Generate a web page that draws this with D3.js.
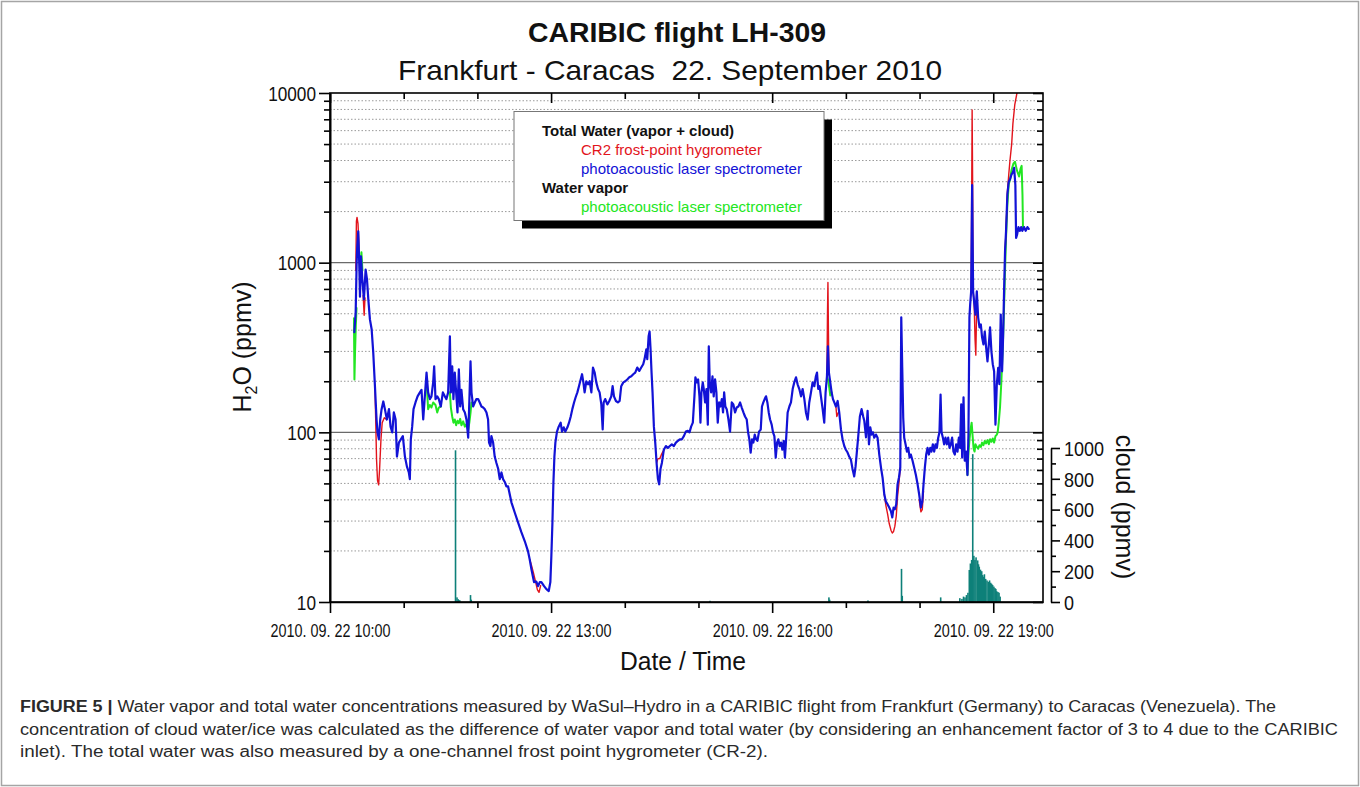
<!DOCTYPE html>
<html><head><meta charset="utf-8">
<script src="https://cdn.jsdelivr.net/npm/d3@7"></script>
<style>
body{margin:0;background:#fff;}
svg{display:block;font-family:"Liberation Sans",Arial,Helvetica,sans-serif;}
</style></head><body>
<svg id="chart" width="1360" height="787"></svg>
<script>
// ---------------- DATA ----------------
const titleText = "CARIBIC flight LH-309";
const subtitleText = "Frankfurt - Caracas  22. September 2010";
const xAxisTitle = "Date / Time";
const cloudAxisTitle = "cloud (ppmv)";
const labelHours = [10, 13, 16, 19];
const yMajorTicks = [10, 100, 1000, 10000];
const cloudTicks = [0, 200, 400, 600, 800, 1000];
const legendHeaders = ["Total Water (vapor + cloud)", "Water vapor"];
const legendEntries = ["CR2 frost-point hygrometer", "photoacoustic laser spectrometer", "photoacoustic laser spectrometer"];
const captionLines = [
  ["FIGURE 5 |", " Water vapor and total water concentrations measured by WaSul\u2013Hydro in a CARIBIC flight from Frankfurt (Germany) to Caracas (Venezuela). The"],
  ["", "concentration of cloud water/ice was calculated as the difference of water vapor and total water (by considering an enhancement factor of 3 to 4 due to the CARIBIC"],
  ["", "inlet). The total water was also measured by a one-channel frost point hygrometer (CR-2)."]
];

// time in minutes after 2010-09-22 10:00, H2O in ppmv
// Total water, photoacoustic laser spectrometer (blue)
const totalWaterPAS = [
[19.8,389],[20.9,510],[21.7,1000],[22.2,1250],[23.0,1530],[23.8,1000],[24.4,630],[25.2,1090],[26.3,800],[27.6,608],[29.0,910],[30.1,800],[31.2,608],[32.5,463],[33.9,405],[35.2,296],[36.6,187],[37.9,119],[38.7,100],[39.8,91],[40.9,119],[42.0,137],[43.4,152],[44.7,137],[46.3,119],[48.0,137],[49.3,108],[50.7,100],[52.0,131],[53.4,119],[54.5,72],[56.1,87],[57.7,91],[59.3,95],[61.0,72],[62.6,63],[64.2,58],[65.0,53],[65.8,91],[66.9,108],[68.0,137],[69.6,150],[71.3,163],[73.2,172],[74.5,178],[75.9,119],[77.2,163],[78.6,225],[79.9,172],[81.3,157],[82.6,163],[84.0,197],[84.8,245],[85.9,157],[87.3,163],[88.6,157],[90.2,142],[91.9,172],[93.5,163],[94.8,157],[96.2,172],[97.6,368],[98.4,172],[99.5,245],[100.5,157],[101.6,225],[102.7,172],[103.8,131],[104.9,235],[106.0,142],[107.0,178],[108.4,137],[109.8,131],[111.1,119],[112.5,93],[113.5,157],[114.4,262],[115.2,172],[116.5,142],[117.9,150],[119.2,157],[120.6,157],[121.9,150],[123.3,142],[124.7,140],[126.0,137],[127.4,131],[128.7,119],[129.5,87],[130.6,83],[131.4,95],[132.8,87],[134.1,72],[135.5,66],[136.9,61],[138.2,53],[139.6,58],[140.9,53],[142.3,51],[143.6,48],[145.0,48],
[147.7,38.7],[150.4,33.7],[153.1,29.5],[155.8,25.8],[158.6,22.8],[161.3,19.8],[162.6,17.8],[164.0,15.6],[166.1,13.1],[168.0,13.2],[169.4,12.4],[170.8,13.1],[172.1,13.1],[174.3,12.4],[176.2,11.9],[178.1,11.6],[179.4,13.1],[180.2,18.5],[181.1,29.5],[181.9,50.7],[182.7,72],[183.5,87],[184.8,101],[186.2,108],[187.8,114],[188.9,101],[190.3,107],[191.6,101],[193.3,107],[194.6,114],[196.0,124],[197.3,137],[198.7,150],[200.0,161],[201.4,172],[202.7,187],[204.1,205],[205.2,220],[206.3,197],[207.3,172],[208.7,200],[210.1,192],[211.4,200],[212.8,172],[214.1,241],[215.5,225],[216.8,197],[218.2,180],[219.5,172],[220.9,146],[222.0,104],[222.8,150],[224.1,157],[225.8,146],[227.4,153],[229.0,163],[230.1,187],[231.2,163],[232.8,153],[234.4,150],[235.8,153],[237.1,187],[238.8,197],[240.4,200],[242.0,205],[243.7,211],[245.3,214],[246.9,220],[248.5,225],[250.2,241],[251.8,230],[253.4,241],[255.0,252],[256.1,270],[257.5,308],[258.3,270],[259.4,368],[260.2,393],[261.0,308],[261.8,225],[262.6,172],[263.7,108],[264.8,87],[265.9,66],[267.0,53],[268.0,49.4],[269.1,61],[270.2,66],[271.8,79],[273.5,83],[275.1,81],[276.7,83],[278.3,85],[280.0,83],[281.6,87],[283.2,89],[284.8,91],[286.5,91],[288.1,95],[289.7,101],
[291.3,102],[292.7,100],[294.0,108],[295.4,114],[296.7,163],[297.5,211],[298.6,197],[299.7,205],[300.8,163],[301.6,114],[302.4,172],[303.5,197],[304.3,180],[305.4,150],[306.5,180],[307.6,111],[308.4,321],[309.2,197],[310.3,172],[311.4,214],[312.4,163],[313.5,205],[314.6,172],[315.7,114],[316.8,150],[317.9,142],[319.0,157],[320.0,131],[320.9,172],[321.9,142],[323.0,137],[324.4,119],[325.7,101],[327.1,150],[328.4,146],[329.8,131],[331.1,140],[332.5,142],[333.9,150],[335.2,140],[336.6,131],[337.9,124],[339.3,119],[340.4,100],[341.4,91],[342.5,76],[343.6,91],[344.7,87],[345.8,97],[346.9,91],[348.0,89],[349.3,101],[350.7,104],[351.7,142],[352.8,150],[353.9,157],[355.0,163],[356.1,150],[357.2,131],[358.3,119],[359.6,111],[360.7,100],[361.8,95],[362.9,71],[364.0,87],[365.0,91],[366.1,83],[367.2,87],[368.3,79],[369.4,89],[370.4,71],[371.5,95],[372.6,131],[374.0,142],[375.3,150],[376.7,180],[378.0,197],[379.4,211],[380.7,192],[382.1,180],[383.5,163],[384.8,180],[386.2,157],[387.5,131],[388.9,119],[390.2,150],[391.6,172],[392.9,197],[394.3,187],[395.6,214],[396.5,225],[397.5,180],[398.6,187],[399.7,163],[401.1,137],[402.4,114],[403.5,172],[404.6,214],[405.4,321],[406.2,225],[407.3,197],[408.4,172],[409.5,157],[410.6,150],[411.9,142],[413.3,153],[414.6,131],[416.0,104],[417.3,91],[418.7,83],[420.0,79],[421.4,76],[422.7,72],[424.1,69],[425.4,61],[426.8,55],[427.9,63],[428.9,76],[430.1,95],[431.4,124],[432.8,137],[434.1,124],
[435.0,117],[436.4,93.5],[437.7,134],[438.8,85],[439.9,107],[441.0,97],[442.0,100],[443.1,93],[444.5,97],[445.8,93],[447.2,74],[448.6,62],[449.9,54],[451.3,43],[452.6,39],[454.0,37.6],[455.3,36],[456.7,34.3],[457.8,31.5],[458.8,36],[459.9,35.2],[461.0,37.6],[462.1,49.4],[463.2,54],[464.3,62],[465.1,476],[465.9,240],[466.7,122],[467.5,93],[468.6,85],[469.7,77],[470.8,81],[471.9,71],[472.9,74],[474.3,68],[475.6,62],[477.0,56],[478.4,49.4],[479.7,43],[481.1,36],[482.2,39],[483.2,49],[484.3,62],[485.4,74],[486.5,81],[487.6,74],[488.7,81],[489.7,77],[490.8,85],[491.9,77],[493.0,85],[494.1,81],[495.2,93],[496.2,100],[497.1,167],[497.9,100],[499.0,93],[500.0,85],[501.1,93],[502.2,85],[503.3,93],[504.4,81],[505.5,85],[506.5,93],[507.6,77],[508.7,74],[509.8,85],[510.9,77],[512.0,93],[513.0,81],[513.9,146],[514.7,71],[515.8,161],[516.8,68],[517.9,77],[519.0,56],[519.8,97],[520.6,476],[521.2,567],[522.0,677],[522.8,2870],[523.6,677],[524.4,590],[525.5,494],[526.6,677],[527.7,476],[528.8,416],[529.9,432],[530.9,363],[532.0,330],[533.1,393],[534.2,316],[535.3,262],[536.4,330],[537.4,416],[538.5,300],[539.6,252],[540.7,229],[541.8,111],[542.9,192],[544.0,240],[545.0,192],[546.1,494],[547.2,229],[548.0,363],[548.8,677],[549.6,1170],[550.4,1530],[551.5,2530],[552.6,3000],[553.7,3100],[554.8,3300],[555.9,3400],[557.0,3620],[558.0,2870],[558.6,1400],[559.4,1460],[560.5,1620],[561.6,1540],[562.7,1620],[563.7,1540],[565.1,1620],[566.4,1540],[567.8,1620],[568.9,1580]
];

// Total water, CR2 frost-point hygrometer (red) - visible stretches, null = gap
const totalWaterCR2 = [
[21.0,900],[21.5,1750],[22.0,1850],[22.8,1700],[23.5,1300],[24.2,900],null,
[27.0,640],[27.8,490],[28.5,620],null,
[36.6,187],[37.3,110],[37.9,69],[38.7,52],[39.6,49],[40.4,61],[41.5,91],[42.5,114],[44.2,122],[46.1,119],[47.5,125],null,
[162.6,17.8],[164.0,16.5],[165.5,15.0],[167.2,13.3],[168.9,11.8],[170.2,11.4],[171.5,12.5],null,
[265.9,66],[267.0,70],[268.5,70],[270.2,75],[272.0,79],null,
[404.6,214],[405.0,480],[405.4,765],[405.8,400],[406.2,225],null,
[411.9,142],[412.6,124],[413.3,128],[414.0,131],null,
[451.3,43],[452.6,37],[454.0,33],[455.3,29],[456.7,26.5],[457.8,25.5],[458.8,26],[459.9,28],[461.0,32],[462.1,42],[463.2,50],[464.3,62],null,
[479.7,40],[481.1,34],[482.2,35],[483.2,45],null,
[522.0,677],[522.5,3000],[522.8,7950],[523.2,3000],[523.6,677],[524.4,590],[525.2,350],[525.8,285],[526.4,500],[526.6,677],null,
[549.6,1170],[550.4,1530],[551.5,2600],[552.6,3300],[553.6,4000],[555.0,5000],[556.0,6600],[557.5,8500],[559.3,10000],[560.0,11500]
];

// Water vapor, photoacoustic laser spectrometer (green) - visible stretches
const waterVaporPAS = [
[19.5,470],[19.9,205],[20.4,300],[21.0,420],[21.6,540],null,
[24.8,950],[25.6,1150],[26.4,900],null,
[78.6,200],[79.9,137],[81.3,145],[82.6,140],[84.0,150],[85.9,145],[87.3,131],[88.6,140],[90.2,142],null,
[97.6,172],[98.4,140],[99.5,124],[100.5,114],[101.6,119],[102.7,110],[103.8,117],[104.9,113],[106.0,120],[107.0,110],[108.4,116],[109.8,108],[111.1,112],[112.5,103],[113.5,115],[114.4,130],[115.2,150],null,
[404.6,214],[405.4,205],[406.2,190],[407.3,165],[408.4,172],null,
[519.0,56],[519.8,75],[520.6,90],[521.6,105],[522.4,114],[523.2,95],[524.0,80],[524.8,77],[525.5,85],[526.6,82],[527.7,80],[528.8,84],[529.9,82],[530.9,87],[532.0,84],[533.1,89],[534.2,86],[535.3,90],[536.4,85],[537.4,91],[538.5,88],[539.6,92],[540.7,87],[541.8,95],[542.9,97],[543.6,100],[544.5,115],[545.5,140],[546.6,200],[547.6,300],[548.6,480],[549.6,900],[550.4,1400],[551.5,2200],[552.6,2900],[553.7,3100],[554.8,3500],[556.5,3850],[557.7,3930],[559.3,3500],[561.0,3220],[562.3,3600],[563.1,3720],[563.8,2500],[564.2,1600]
];

// Cloud water/ice (ppmv), teal columns on the right-hand axis
const cloudWater = [
[102.2,985],[103.4,30],[104.4,18],[105.6,12],[114.4,45],[115.0,15],
[309.4,8],[406.2,30],[406.8,15],[438.0,10],[465.3,215],[465.9,40],[497.2,30],[512.8,25],
[514.5,20],[515.8,35],[517.0,30],[518.2,45],[519.4,60],[520.5,208],[521.4,250],[522.4,273],[523.3,960],[524.2,300],[525.1,273],[526.0,290],[527.3,270],[528.0,245],[528.6,229],[529.6,210],[530.6,200],[531.3,175],[531.9,164],[532.8,180],[533.8,150],[534.9,140],[536.0,131],[537.0,140],[537.9,125],[538.7,118],[539.5,110],[540.5,100],[541.4,90],[542.1,85],[542.8,70],[543.8,65],[544.7,60],[545.6,35]
];

// ---------------- DRAWING ----------------
const C = {blue:"#1212d6", red:"#e2141c", green:"#22e622", teal:"#0e8079", grid:"#9a9a9a"};
const svg = d3.select("#chart");
const L = 330, R = 1043, T = 93, B = 602;
const t0 = new Date(2010, 8, 22, 10, 0);
const toDate = m => new Date(t0.getTime() + m * 60000);
const x = d3.scaleTime().domain([t0, toDate(580.5)]).range([L, R]);
const y = d3.scaleLog().domain([10, 10000]).range([B, T]);
const yc = d3.scaleLinear().domain([0, 1000]).range([B, 448]);

function narrow(sel, f) {
  sel.each(function () {
    const len = this.getComputedTextLength();
    d3.select(this).attr("textLength", len * f).attr("lengthAdjust", "spacingAndGlyphs");
  });
}

// figure border
svg.append("rect").attr("x", 1.5).attr("y", 1.5).attr("width", 1357).attr("height", 784)
  .attr("fill", "none").attr("stroke", "#a5a5a5").attr("stroke-width", 1.5);

// log ticks
const logTicks = [];
[10, 100, 1000].forEach(d => { for (let k = 1; k < 10; k++) logTicks.push(k * d); });
logTicks.push(10000);
const isMajor = v => yMajorTicks.includes(v);

// grid
const grid = svg.append("g");
grid.selectAll("line.minor").data(logTicks.filter(v => !isMajor(v))).join("line")
  .attr("x1", L).attr("x2", R).attr("y1", d => y(d)).attr("y2", d => y(d))
  .attr("stroke", C.grid).attr("stroke-width", 1).attr("stroke-dasharray", "1.5,2");
grid.selectAll("line.major").data([100, 1000]).join("line")
  .attr("x1", L).attr("x2", R).attr("y1", d => y(d)).attr("y2", d => y(d))
  .attr("stroke", "#6a6a6a").attr("stroke-width", 1.3);

// clip
svg.append("clipPath").attr("id", "plotclip").append("rect")
  .attr("x", L).attr("y", T).attr("width", R - L).attr("height", B - T);

// cloud columns
svg.append("g").selectAll("rect").data(cloudWater).join("rect")
  .attr("x", d => x(toDate(d[0])) - 0.8).attr("width", 1.6)
  .attr("y", d => yc(d[1])).attr("height", d => B - yc(d[1]))
  .attr("fill", C.teal);

const line = d3.line().defined(d => d !== null)
  .x(d => x(toDate(d[0]))).y(d => y(d[1]));
const lines = svg.append("g").attr("clip-path", "url(#plotclip)")
  .attr("fill", "none").attr("stroke-linejoin", "round").attr("stroke-linecap", "round");
lines.append("path").datum(waterVaporPAS).attr("d", line).attr("stroke", C.green).attr("stroke-width", 2);
lines.append("path").datum(totalWaterCR2).attr("d", line).attr("stroke", C.red).attr("stroke-width", 1.4);
lines.append("path").datum(totalWaterPAS).attr("d", line).attr("stroke", C.blue).attr("stroke-width", 2.2);

// frame
svg.append("rect").attr("x", L).attr("y", T).attr("width", R - L).attr("height", B - T)
  .attr("fill", "none").attr("stroke", "#000").attr("stroke-width", 1.6);

const hourTicks = d3.timeHour.every(1).range(t0, toDate(581));
const isLabelHour = d => labelHours.includes(d.getHours());
const fmt = d3.timeFormat("%Y. %m. %d %H:%M");

// bottom axis
const gxb = svg.append("g").attr("transform", `translate(0,${B})`)
  .call(d3.axisBottom(x).tickValues(hourTicks).tickSize(6).tickSizeOuter(0)
    .tickFormat(d => isLabelHour(d) ? fmt(d) : ""));
gxb.select(".domain").attr("stroke-width", 1.6);
gxb.selectAll(".tick line").attr("stroke-width", 1.6).attr("y2", d => isLabelHour(d) ? 11 : 6);
gxb.selectAll(".tick text").attr("y", 35).attr("dy", null)
  .attr("font-size", 18).attr("font-family", "Liberation Sans, Arial, sans-serif").attr("fill", "#111")
  .filter(d => isLabelHour(d)).attr("textLength", 120).attr("lengthAdjust", "spacingAndGlyphs");

// top axis (mirror)
const gxt = svg.append("g").attr("transform", `translate(0,${T})`)
  .call(d3.axisTop(x).tickValues(hourTicks).tickSize(-6).tickSizeOuter(0).tickFormat(""));
gxt.select(".domain").remove();
gxt.selectAll(".tick line").attr("stroke-width", 1.6).attr("y2", d => isLabelHour(d) ? 10 : 6);

// left axis
const gyl = svg.append("g").attr("transform", `translate(${L},0)`)
  .call(d3.axisLeft(y).tickValues(logTicks).tickSize(6).tickSizeOuter(0)
    .tickFormat(d => isMajor(d) ? String(d) : ""));
gyl.select(".domain").attr("stroke-width", 2);
gyl.selectAll(".tick line").attr("stroke-width", 1.6).attr("x2", d => isMajor(d) ? -11 : -6);
gyl.selectAll(".tick text").attr("x", -14).attr("font-size", 20)
  .attr("font-family", "Liberation Sans, Arial, sans-serif").attr("fill", "#111")
  .attr("dy", "0.36em");
narrow(gyl.selectAll(".tick text").filter(d => isMajor(d)), 0.86);

// right edge mirror ticks
const gyr = svg.append("g").attr("transform", `translate(${R},0)`)
  .call(d3.axisRight(y).tickValues(logTicks).tickSize(-6).tickSizeOuter(0).tickFormat(""));
gyr.select(".domain").remove();
gyr.selectAll(".tick line").attr("stroke-width", 1.6).attr("x2", d => isMajor(d) ? -10 : -6);

// cloud axis
const cloudAll = d3.range(0, 1001, 100);
const gc = svg.append("g").attr("transform", `translate(1051,0)`)
  .call(d3.axisRight(yc).tickValues(cloudAll).tickSize(8).tickSizeOuter(0)
    .tickFormat(d => cloudTicks.includes(d) ? String(d) : ""));
gc.select(".domain").attr("stroke-width", 1.6);
gc.selectAll(".tick line").attr("stroke-width", 1.6).attr("x2", d => cloudTicks.includes(d) ? 9 : 5);
gc.selectAll(".tick text").attr("x", 13).attr("font-size", 20)
  .attr("font-family", "Liberation Sans, Arial, sans-serif").attr("fill", "#111").attr("dy", "0.36em");
narrow(gc.selectAll(".tick text").filter(d => cloudTicks.includes(d)), 0.9);

// titles
svg.append("text").attr("x", 677).attr("y", 42).attr("text-anchor", "middle")
  .attr("font-size", 27).attr("font-weight", "bold").attr("fill", "#111")
  .attr("textLength", 298).attr("lengthAdjust", "spacingAndGlyphs").text(titleText);
svg.append("text").attr("x", 670).attr("y", 80).attr("text-anchor", "middle")
  .attr("font-size", 28).attr("fill", "#111").style("white-space", "pre")
  .attr("textLength", 544).attr("lengthAdjust", "spacingAndGlyphs").text(subtitleText);

// axis titles
svg.append("text").attr("x", 683).attr("y", 670).attr("text-anchor", "middle")
  .attr("font-size", 25).attr("fill", "#111")
  .attr("textLength", 126).attr("lengthAdjust", "spacingAndGlyphs").text(xAxisTitle);

const yt = svg.append("text").attr("transform", "translate(251,347) rotate(-90)")
  .attr("text-anchor", "middle").attr("font-size", 25).attr("fill", "#111");
yt.append("tspan").text("H");
yt.append("tspan").attr("font-size", 16).attr("dy", 6).text("2");
yt.append("tspan").attr("dy", -6).text("O (ppmv)");

svg.append("text").attr("transform", "translate(1116,507) rotate(90)")
  .attr("text-anchor", "middle").attr("font-size", 25).attr("fill", "#111").text(cloudAxisTitle);

// legend
const lg = svg.append("g");
lg.append("rect").attr("x", 522).attr("y", 119.5).attr("width", 310).attr("height", 109).attr("fill", "#000");
lg.append("rect").attr("x", 514).attr("y", 111.5).attr("width", 310).attr("height", 109)
  .attr("fill", "#fff").attr("stroke", "#777").attr("stroke-width", 1);
const legendRows = [
  {text: legendHeaders[0], x: 542, y: 136, bold: true, color: "#111"},
  {text: legendEntries[0], x: 581, y: 155, bold: false, color: C.red},
  {text: legendEntries[1], x: 581, y: 174, bold: false, color: C.blue},
  {text: legendHeaders[1], x: 542, y: 193, bold: true, color: "#111"},
  {text: legendEntries[2], x: 581, y: 212, bold: false, color: C.green}
];
lg.selectAll("text").data(legendRows).join("text")
  .attr("x", d => d.x).attr("y", d => d.y).attr("font-size", 15)
  .attr("font-weight", d => d.bold ? "bold" : "normal").attr("fill", d => d.color)
  .text(d => d.text);

// caption
const capY = [712, 735, 757];
const capW = [1256, 1318, 748];
captionLines.forEach((ln, i) => {
  const t = svg.append("text").attr("x", 20).attr("y", capY[i]).attr("font-size", 16)
    .attr("fill", "#2a2a2a").style("white-space", "pre")
    .attr("textLength", capW[i]).attr("lengthAdjust", "spacingAndGlyphs");
  if (ln[0]) t.append("tspan").attr("font-weight", "bold").text(ln[0]);
  t.append("tspan").text(ln[1]);
});
</script>
</body></html>
